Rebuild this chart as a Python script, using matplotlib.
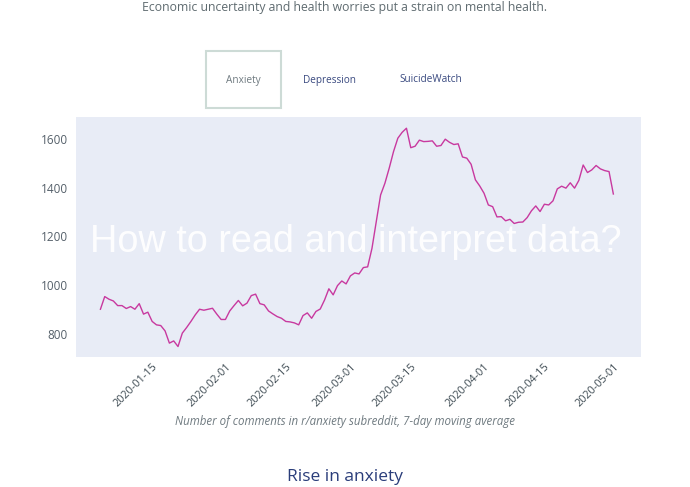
import numpy as np
import pandas as pd
import matplotlib.pyplot as plt
import matplotlib.dates as mdates
from matplotlib.patches import Rectangle

# data: r/anxiety comments, 7-day moving average
start_date = "2020-01-03"
comments = [
    901, 953, 942, 935, 916, 916, 904, 912, 901, 924,
    881, 889, 851, 837, 834, 812, 762, 771, 748, 803,
    826, 851, 878, 901, 897, 901, 905, 881, 859, 859,
    894, 916, 937, 915, 926, 957, 963, 924, 919, 894,
    882, 871, 864, 851, 849, 845, 837, 875, 886, 864,
    892, 902, 939, 985, 960, 998, 1017, 1005, 1038, 1050,
    1046, 1072, 1075, 1151, 1261, 1370, 1418, 1480, 1548, 1603,
    1627, 1644, 1564, 1570, 1595, 1589, 1590, 1592, 1570, 1573,
    1599, 1586, 1577, 1580, 1526, 1521, 1496, 1432, 1407, 1377,
    1329, 1322, 1280, 1281, 1264, 1270, 1253, 1258, 1259, 1277,
    1305, 1325, 1302, 1332, 1329, 1346, 1395, 1406, 1398, 1420,
    1398, 1430, 1493, 1462, 1473, 1491, 1477, 1470, 1466, 1374,
]
dates = pd.date_range(start_date, periods=len(comments), freq="D")

y_ticks = [800, 1000, 1200, 1400, 1600]
x_ticks = ["2020-01-15", "2020-02-01", "2020-02-15", "2020-03-01",
           "2020-03-15", "2020-04-01", "2020-04-15", "2020-05-01"]
tabs = ["Anxiety", "Depression", "SuicideWatch"]

W, H = 690, 487
fig = plt.figure(figsize=(W / 100, H / 100), dpi=100)

# plot area in pixel coords -> figure fraction
left, right, top, bottom = 76, 641, 117, 357
ax = fig.add_axes([left / W, 1 - bottom / H, (right - left) / W, (bottom - top) / H])
ax.set_facecolor("#e8ecf6")
for s in ax.spines.values():
    s.set_visible(False)

ax.plot(dates, comments, color="#c8399f", lw=1.0)

ax.set_xlim(pd.Timestamp("2019-12-28 08:00"), pd.Timestamp("2020-05-07 10:00"))
ax.set_ylim(705, 1690)

ax.set_yticks(y_ticks)
ax.set_yticklabels([str(v) for v in y_ticks], fontsize=8.5, color="#55606a",
                   family="Open Sans")
ax.set_xticks(pd.to_datetime(x_ticks))
ax.set_xticklabels(x_ticks, rotation=45, ha="right", va="top", rotation_mode="anchor",
                   fontsize=7.8, color="#3d4a52", family="Open Sans")
ax.tick_params(axis="both", length=0)
ax.tick_params(axis="y", pad=6)
ax.tick_params(axis="x", pad=3)

# overlay headline
ax.text(0.496, 0.48, "How to read and interpret data?", transform=ax.transAxes,
        ha="center", va="center", fontsize=27.2, color="white", alpha=0.95,
        family="Liberation Sans", zorder=5)

# texts around the chart
fig.text(344 / W, 1 - 7 / H, "Economic uncertainty and health worries put a strain on mental health.",
         ha="center", va="center", fontsize=8.8, color="#5f6b70", family="Open Sans")

tab_x = [243, 330, 431]
tab_colors = ["#6f7a80", "#3a4a80", "#3a4a80"]
for name, x, c in zip(tabs, tab_x, tab_colors):
    fig.text(x / W, 1 - 80 / H, name, ha="center", va="center", fontsize=7.2,
             color=c, family="Open Sans")
fig.patches.append(Rectangle((206 / W, 1 - 108 / H), 75 / W, 57 / H,
                             transform=fig.transFigure, fill=False,
                             edgecolor="#cddbd6", lw=1.5))

fig.text(345 / W, 1 - 422 / H,
         "Number of comments in r/anxiety subreddit, 7-day moving average",
         ha="center", va="center", fontsize=8.3, style="italic", color="#6f7a80",
         family="Open Sans")

fig.text(345 / W, 1 - 477 / H, "Rise in anxiety", ha="center", va="center",
         fontsize=12.5, color="#2a3d7a", family="Open Sans")

fig.savefig("out.png", dpi=100)
